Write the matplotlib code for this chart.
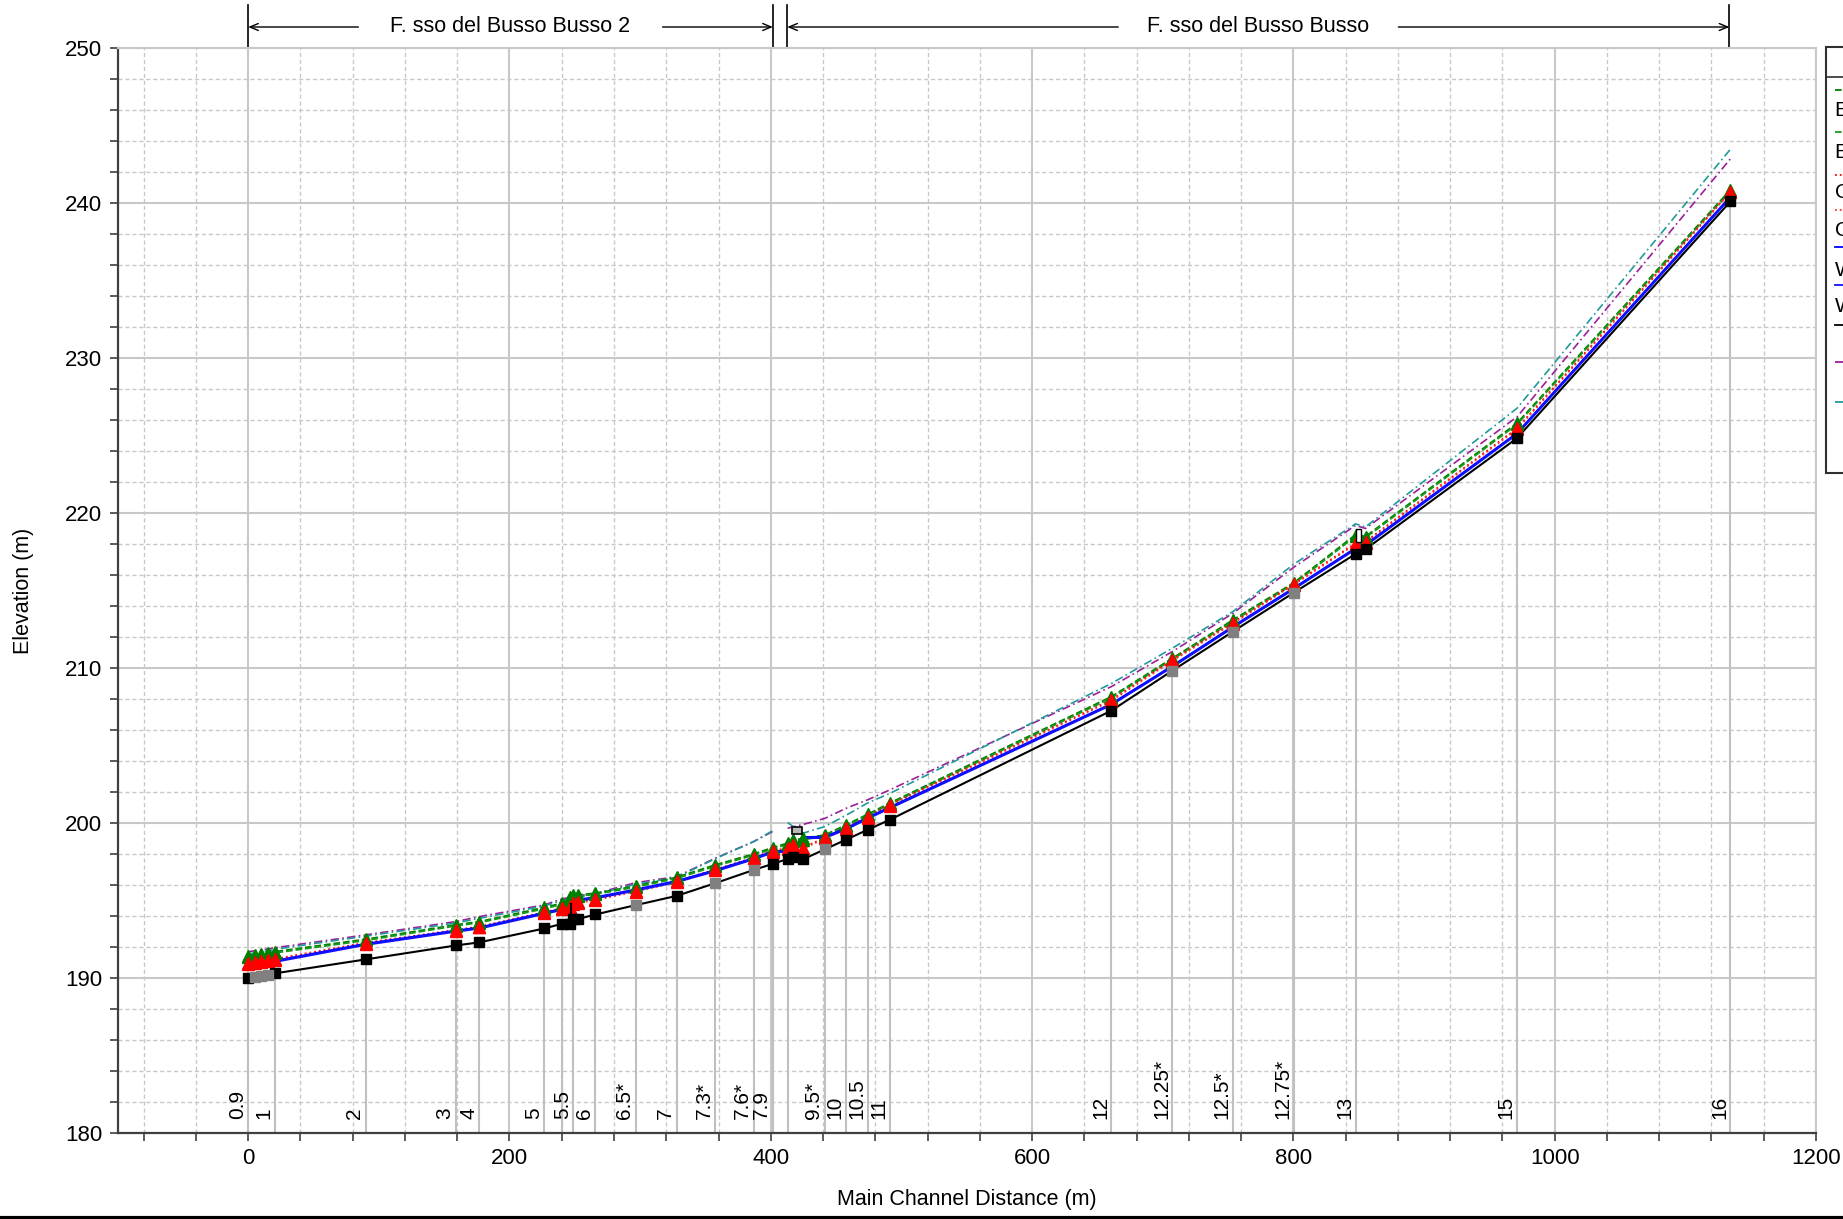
import numpy as np
import matplotlib
matplotlib.use('Agg')
import matplotlib.pyplot as plt
from matplotlib.ticker import MultipleLocator
from matplotlib.lines import Line2D
from matplotlib.patches import Rectangle
import matplotlib.transforms as mtransforms

plt.rcParams['font.family'] = ['Liberation Sans', 'DejaVu Sans']

# cross sections: main channel distance (m)
sec_x = [0, 5, 10, 15, 20.5, 90, 159, 177, 226.8, 240.3, 246.5, 249, 252.3, 265.8,
         296.6, 328, 357.6, 386.9, 401.4, 412.9, 416.7, 424.6, 441.4, 457.7, 474.3,
         490.9, 660.7, 707.4, 753.7, 800.3, 847.6, 855.2, 971.2, 1134.5]
sec_label = ['0.9', '', '', '', '1', '2', '3', '4', '5', '', '', '5.5', '', '6',
             '6.5*', '7', '7.3*', '7.6*', '7.9', '', '', '', '9.5*', '10', '10.5',
             '11', '12', '12.25*', '12.5*', '12.75*', '13', '', '15', '16']
sec_interp = [0, 1, 1, 1, 0, 0, 0, 0, 0, 0, 0, 0, 0, 0, 1, 0, 1, 1, 0, 0, 0, 0, 1, 0, 0,
              0, 0, 1, 1, 1, 0, 0, 0, 0]
sec_line = [1, 0, 0, 0, 1, 1, 1, 1, 1, 1, 0, 1, 0, 1, 1, 1, 1, 1, 1, 1, 0, 0, 1, 1, 1,
            1, 1, 1, 1, 1, 1, 0, 1, 1]

ground = [190.0, 190.07, 190.13, 190.2, 190.3, 191.2, 192.1, 192.3, 193.2, 193.5, 193.5,
          193.8, 193.8, 194.1, 194.7, 195.3, 196.12, 196.97, 197.36, 197.68, 197.8, 197.66,
          198.3, 198.93, 199.57, 200.2, 207.25, 209.83, 212.35, 214.86, 217.36, 217.66,
          224.83, 240.1]

eg_a = [191.43, 191.5, 191.56, 191.62, 191.7, 192.5, 193.43, 193.64, 194.55, 194.83, 195.2,
        195.33, 195.36, 195.47, 195.93, 196.5, 197.3, 198.0, 198.41, 198.7, 198.9, 199.0,
        199.23, 199.88, 200.57, 201.28, 208.15, 210.63, 213.1, 215.5, 218.6, 218.48,
        225.8, 240.85]
eg_b = [191.36, 191.43, 191.49, 191.55, 191.62, 192.42, 193.36, 193.57, 194.47, 194.75, 195.1,
        195.25, 195.29, 195.4, 195.86, 196.42, 197.22, 197.92, 198.33, 198.62, 198.83, 198.92,
        199.16, 199.8, 200.5, 201.2, 208.07, 210.55, 213.02, 215.42, 218.5, 218.4,
        225.72, 240.77]
crit_a = [190.95, 191.0, 191.08, 191.15, 191.23, 192.28, 193.1, 193.32, 194.25, 194.5, 194.6,
          194.83, 194.9, 195.08, 195.64, 196.24, 197.0, 197.77, 198.22, 198.37, 198.6, 198.4,
          199.06, 199.7, 200.41, 201.17, 207.94, 210.52, 212.93, 215.43, 218.05, 218.15,
          225.47, 240.74]
crit_b = [190.89, 190.94, 191.02, 191.09, 191.17, 192.22, 193.04, 193.26, 194.19, 194.44, 194.54,
          194.77, 194.84, 195.02, 195.58, 196.18, 196.94, 197.71, 198.16, 198.31, 198.54, 198.34,
          199.0, 199.64, 200.35, 201.11, 207.88, 210.46, 212.87, 215.37, 217.99, 218.09,
          225.41, 240.68]
ws_a = [190.67, 190.85, 190.95, 191.02, 191.1, 192.2, 193.05, 193.25, 194.2, 194.45, 194.75,
        194.95, 195.05, 195.2, 195.7, 196.25, 196.95, 197.72, 198.15, 198.22, 198.25, 199.08,
        199.1, 199.65, 200.35, 201.0, 207.68, 210.13, 212.67, 215.15, 217.73, 217.95,
        225.15, 240.4]
ws_b = [190.62, 190.8, 190.9, 190.97, 191.05, 192.15, 193.0, 193.2, 194.15, 194.4, 194.7,
        194.9, 195.0, 195.15, 195.65, 196.2, 196.9, 197.67, 198.1, 198.17, 198.2, 199.03,
        199.05, 199.6, 200.3, 200.95, 207.63, 210.08, 212.62, 215.1, 217.68, 217.9,
        225.1, 240.35]
lob = [191.7, 191.75, 191.8, 191.88, 191.95, 192.78, 193.64, 193.96, 194.72, 195.1, 195.2,
       195.25, 195.3, 195.45, 196.15, 196.54, 197.73, 198.8, 199.45, 199.66, 199.75, 199.9,
       200.3, 200.95, 201.5, 202.13, 208.8, 211.06, 213.53, 216.5, 219.2, 219.0,
       226.2, 242.85]
rob = [191.55, 191.62, 191.68, 191.75, 191.85, 192.7, 193.55, 193.85, 194.65, 195.0, 195.1,
       195.15, 195.2, 195.4, 196.05, 196.5, 197.7, 198.8, 199.5, 200.03, 199.8, 199.34,
       199.77, 200.5, 201.3, 201.9, 209.0, 211.28, 213.64, 216.7, 219.3, 219.1,
       226.76, 243.47]

# reaches: name, start, end (m); first index of the upstream reach
reach_names = ['F. sso del Busso Busso 2', 'F. sso del Busso Busso']
reach_start = [0, 412.6]
reach_end = [401.6, 1133.7]
reach_split = 19

# structures
culvert_box = (416.5, 199.3, 7.6, 0.47)
weir_box = (848.3, 218.15, 3.1, 0.8)
gate_line = (247.3, 193.6, 194.75)

legend_labels = ['EG  PF 2', 'EG  PF 1', 'Crit  PF 2', 'Crit  PF 1', 'WS  PF 2', 'WS  PF 1',
                 'Ground', 'LOB', 'ROB']

W, H = 1843, 1219
fig = plt.figure(figsize=(W / 100, H / 100), dpi=100)
ax = fig.add_axes([117.5 / W, 1 - 1133 / H, (1816 - 117.5) / W, (1133 - 48) / H])

x = np.array(sec_x)
gr = np.array(ground)

# section lines
for xi, zi, fl in zip(sec_x, ground, sec_line):
    if fl:
        ax.plot([xi, xi], [180, zi], color='#c0c0c0', lw=1.5, zorder=1)
for xi, lab in zip(sec_x, sec_label):
    if lab:
        ax.annotate(lab, xy=(xi, 180), xytext=(-1, 10), textcoords='offset points',
                    rotation=90, ha='right', va='bottom', fontsize=15, zorder=2)

# banks, broken at the junction
for sl in [slice(0, reach_split), slice(reach_split, None)]:
    ax.plot(x[sl], np.array(lob)[sl], color='#9a1f9a', lw=1.2, dashes=(5, 2, 1, 2), zorder=2)
    ax.plot(x[sl], np.array(rob)[sl], color='#1f9a9a', lw=1.2, dashes=(5, 2, 1, 2), zorder=2)

ax.plot(x, eg_a, color='#008000', lw=1.3, ls='--', zorder=3)
ax.plot(x, eg_b, color='#1a9a1a', lw=1.3, ls='--', zorder=3)
ax.plot(x, crit_a, color='#ff0000', lw=1.3, ls=':', zorder=3)
ax.plot(x, crit_b, color='#ff3030', lw=1.3, ls=':', zorder=3)
ax.plot(x, ws_a, color='#0000ff', lw=1.7, zorder=3)
ax.plot(x, ws_b, color='#1010ff', lw=1.7, zorder=3)
ax.plot(x, gr, color='black', lw=1.5, zorder=3)

ax.plot(x, eg_b, ls='none', marker='^', ms=8, color='#008000', zorder=4)
ax.plot(x, eg_a, ls='none', marker='^', ms=8, color='#008000', zorder=4)
ax.plot(x, crit_b, ls='none', marker='^', ms=8, color='#ff0000', zorder=4)
ax.plot(x, crit_a, ls='none', marker='^', ms=8, color='#ff0000', zorder=4)
interp = np.array(sec_interp, dtype=bool)
ax.plot(x[~interp], gr[~interp], ls='none', marker='s', ms=7, color='black', zorder=5)
ax.plot(x[interp], gr[interp], ls='none', marker='s', ms=7, color='#808080', zorder=5)

ax.add_patch(Rectangle(culvert_box[:2], culvert_box[2], culvert_box[3], facecolor='#b8b8b8',
                       edgecolor='black', lw=1.2, zorder=6))
ax.add_patch(Rectangle(weir_box[:2], weir_box[2], weir_box[3], facecolor='white',
                       edgecolor='black', lw=1.0, zorder=6))
ax.plot([gate_line[0]] * 2, gate_line[1:], color='black', lw=1.5, zorder=6)

ax.set_xlim(-100, 1200)
ax.set_ylim(180, 250)
ax.xaxis.set_major_locator(MultipleLocator(200))
ax.xaxis.set_minor_locator(MultipleLocator(40))
ax.yaxis.set_major_locator(MultipleLocator(10))
ax.yaxis.set_minor_locator(MultipleLocator(2))
ax.grid(which='major', color='#c8c8c8', lw=1.5, ls='-', zorder=0)
ax.grid(which='minor', color='#c8c8c8', lw=1.0, ls=(0, (3, 2)), zorder=0)
ax.set_axisbelow(True)
ax.tick_params(which='both', direction='out', length=6, width=1.2, color='#404040',
               labelsize=16, pad=5)
ax.tick_params(which='both', top=False, right=False)
for s in ['left', 'bottom']:
    ax.spines[s].set_color('#404040')
    ax.spines[s].set_linewidth(1.6)
for s in ['top', 'right']:
    ax.spines[s].set_color('#c8c8c8')
    ax.spines[s].set_linewidth(1.5)
ax.set_xlabel('Main Channel Distance (m)', fontsize=15.5, labelpad=14)
ax.set_ylabel('Elevation (m)', fontsize=15.5, labelpad=22)

# reach annotations above the axes
trans = mtransforms.blended_transform_factory(ax.transData, ax.transAxes)
y_top = 1 + 43 / 1085
y_arr = 1 + 21 / 1085
for name, a, b in zip(reach_names, reach_start, reach_end):
    for xv in (a, b):
        ax.plot([xv, xv], [1, y_top], transform=trans, color='black', lw=1.2, clip_on=False)
    mid = (a + b) / 2
    ax.text(mid, y_arr, name, transform=trans, ha='center', va='center', fontsize=15.5)
    half = len(name) * 4.6 + 6
    for tip, start in ((a, mid - half), (b, mid + half)):
        ax.annotate('', xy=(tip, y_arr), xytext=(start, y_arr), xycoords=trans,
                    textcoords=trans,
                    arrowprops=dict(arrowstyle='->, head_length=0.6, head_width=0.25',
                                    color='black', lw=1.0, shrinkA=0, shrinkB=0))


# legend box, mostly cut off by the figure edge
def fx(px):
    return px / W


def fy(py):
    return 1 - py / H


fig.add_artist(Rectangle((fx(1826), fy(473)), fx(120), (473 - 47) / H,
                         transform=fig.transFigure, facecolor='white', edgecolor='#303030',
                         lw=1.5))
fig.add_artist(Line2D([fx(1826), fx(1900)], [fy(77), fy(77)], transform=fig.transFigure,
                      color='#303030', lw=1.2))
leg_style = [('#008000', '--', 90, 110), ('#1a9a1a', '--', 132, 152),
             ('#ff0000', ':', 175, 192), ('#ff3030', ':', 210, 230),
             ('#0000ff', '-', 247, 270), ('#1010ff', '-', 285, 307),
             ('black', '-', 325, None), ('#9a1f9a', '-.', 362, None),
             ('#1f9a9a', '-.', 402, None)]
for (c, ls, yl, yt), lab in zip(leg_style, legend_labels):
    fig.add_artist(Line2D([fx(1835), fx(1860)], [fy(yl), fy(yl)], transform=fig.transFigure,
                          color=c, ls=ls, lw=1.3))
    if yt is not None:
        fig.text(fx(1835), fy(yt), lab, ha='left', va='center', fontsize=15)

fig.add_artist(Line2D([0, 1], [fy(1217.5), fy(1217.5)], transform=fig.transFigure,
                      color='black', lw=3))

fig.savefig('out.png', dpi=100)
